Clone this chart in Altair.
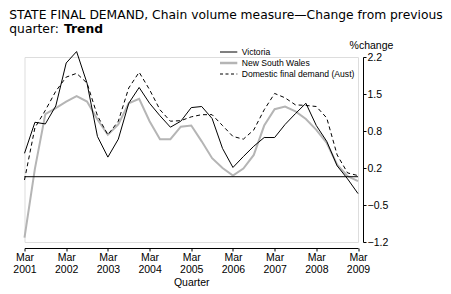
import altair as alt
import pandas as pd

# ---- data (quarterly, Mar 2001 .. Mar 2009) ----
quarters = list(range(33))
victoria = [0.43, 1.0, 0.97, 1.3, 2.09, 2.30, 1.72, 0.74, 0.36, 0.69, 1.35, 1.64, 1.35, 1.12,
            0.91, 1.02, 1.27, 1.29, 1.07, 0.52, 0.17, 0.37, 0.56, 0.72, 0.72, 0.96, 1.16,
            1.35, 0.94, 0.65, 0.2, -0.04, -0.31]
nsw = [-1.12, 0.15, 1.15, 1.26, 1.38, 1.48, 1.38, 1.05, 0.77, 0.96, 1.35, 1.43, 1.02, 0.69,
       0.69, 0.92, 0.94, 0.65, 0.34, 0.16, 0.02, 0.15, 0.40, 0.94, 1.24, 1.29, 1.20, 1.06,
       0.86, 0.62, 0.22, 0.01, -0.08]
domestic = [-0.06, 0.9, 1.22, 1.57, 1.83, 1.9, 1.72, 1.12, 0.77, 1.02, 1.63, 1.92, 1.6, 1.23,
            1.02, 1.03, 1.10, 1.14, 1.14, 0.94, 0.74, 0.69, 0.86, 1.23, 1.53, 1.45, 1.32,
            1.31, 1.29, 1.08, 0.40, 0.07, 0.02]
series_names = ["Victoria", "New South Wales", "Domestic final demand (Aust)"]
year_ticks = [0, 4, 8, 12, 16, 20, 24, 28, 32]
y_ticks = [-1.2, -0.52, 0.16, 0.84, 1.52, 2.2]
zero_line = [0]
title_line1 = "STATE FINAL DEMAND, Chain volume measure\u2014Change from previous"
title_line2a = "quarter:"
title_line2b = "Trend"

GRAY = "#b5b5b5"
FONT = "Liberation Sans"
TFONT = "DejaVu Sans"
TSIZE = 12.3

df = pd.DataFrame({
    "q": quarters * 3,
    "v": victoria + nsw + domestic,
    "s": [series_names[0]] * 33 + [series_names[1]] * 33 + [series_names[2]] * 33,
})

x_enc = alt.X(
    "q:Q",
    scale=alt.Scale(domain=[0, 32], nice=False, zero=False),
    axis=alt.Axis(
        values=year_ticks,
        labelExpr="['Mar', '' + (2001 + datum.value / 4)]",
        title="Quarter",
        orient="bottom",
        offset=6,
        grid=False,
        domainColor="black",
        tickColor="black",
        tickSize=3,
        labelPadding=1,
        labelFont=FONT,
        labelFontSize=10.5,
        labelColor="black",
        labelLineHeight=12.5,
        labelFlush=False,
        labelOverlap=False,
        titleFont=FONT,
        titleFontSize=10.5,
        titleFontWeight="normal",
        titleColor="black",
        titlePadding=2,
    ),
)
y_enc = alt.Y(
    "v:Q",
    scale=alt.Scale(domain=[-1.2, 2.2], nice=False, zero=False),
    axis=alt.Axis(
        values=y_ticks,
        format=".1f",
        orient="right",
        offset=5,
        grid=False,
        domainColor="black",
        tickColor="black",
        tickSize=3,
        labelPadding=1,
        labelFont=FONT,
        labelFontSize=10.5,
        labelColor="black",
        labelOverlap=False,
        labelFlush=False,
        title="%change",
        titleAngle=0,
        titleX=8,
        titleY=-9,
        titleAlign="center",
        titleBaseline="alphabetic",
        titleFont=FONT,
        titleFontSize=10.5,
        titleFontWeight="normal",
        titleColor="black",
    ),
)

base = alt.Chart(df)

l_nsw = base.transform_filter(alt.datum.s == series_names[1]).mark_line(
    color=GRAY, strokeWidth=2).encode(x=x_enc, y=y_enc)
l_dom = base.transform_filter(alt.datum.s == series_names[2]).mark_line(
    color="black", strokeWidth=1, strokeDash=[4, 3]).encode(x=x_enc, y=y_enc)
l_vic = base.transform_filter(alt.datum.s == series_names[0]).mark_line(
    color="black", strokeWidth=1).encode(x=x_enc, y=y_enc)

zero = alt.Chart(pd.DataFrame({"v": zero_line})).mark_rule(
    color="black", strokeWidth=1).encode(y=y_enc)

# manual legend
leg_x0, leg_x1, leg_tx = 195.5, 212.8, 217.2
leg_rows = [-5, 6, 17]
leg_styles = [dict(color="black", strokeWidth=1),
              dict(color=GRAY, strokeWidth=2.5),
              dict(color="black", strokeWidth=1, strokeDash=[3, 2.5])]
legend_layers = []
for name, yy, st in zip(series_names, leg_rows, leg_styles):
    legend_layers.append(
        alt.Chart(pd.DataFrame({"s": [name]})).mark_rule(**st).encode(
            x=alt.value(leg_x0), x2=alt.value(leg_x1), y=alt.value(yy)))
    legend_layers.append(
        alt.Chart(pd.DataFrame({"s": [name]})).mark_text(
            align="left", baseline="middle", font=FONT, fontSize=8.6, color="black").encode(
            text="s:N", x=alt.value(leg_tx), y=alt.value(yy)))

# title text
t1 = alt.Chart(pd.DataFrame({"t": [title_line1]})).mark_text(
    align="left", baseline="alphabetic", font=TFONT, fontSize=TSIZE, color="black").encode(
    text="t:N", x=alt.value(-15.2), y=alt.value(-37.7))
t2 = alt.Chart(pd.DataFrame({"t": [title_line2a]})).mark_text(
    align="left", baseline="alphabetic", font=TFONT, fontSize=TSIZE, color="black").encode(
    text="t:N", x=alt.value(-15.2), y=alt.value(-24.5))
t3 = alt.Chart(pd.DataFrame({"t": [title_line2b]})).mark_text(
    align="left", baseline="alphabetic", font=TFONT, fontSize=TSIZE, fontWeight="bold",
    color="black").encode(
    text="t:N", x=alt.value(39.5), y=alt.value(-24.5))

chart = alt.layer(l_nsw, zero, l_dom, l_vic, *legend_layers, t1, t2, t3).properties(
    width=333.5,
    height=185,
    autosize=alt.AutoSizeParams(type="none"),
    padding={"left": 16.5, "top": 49, "right": 85, "bottom": 47},
).configure_view(stroke=None).configure(background="white")

chart.save("out.html", embed_options={"renderer": "svg", "actions": False})
